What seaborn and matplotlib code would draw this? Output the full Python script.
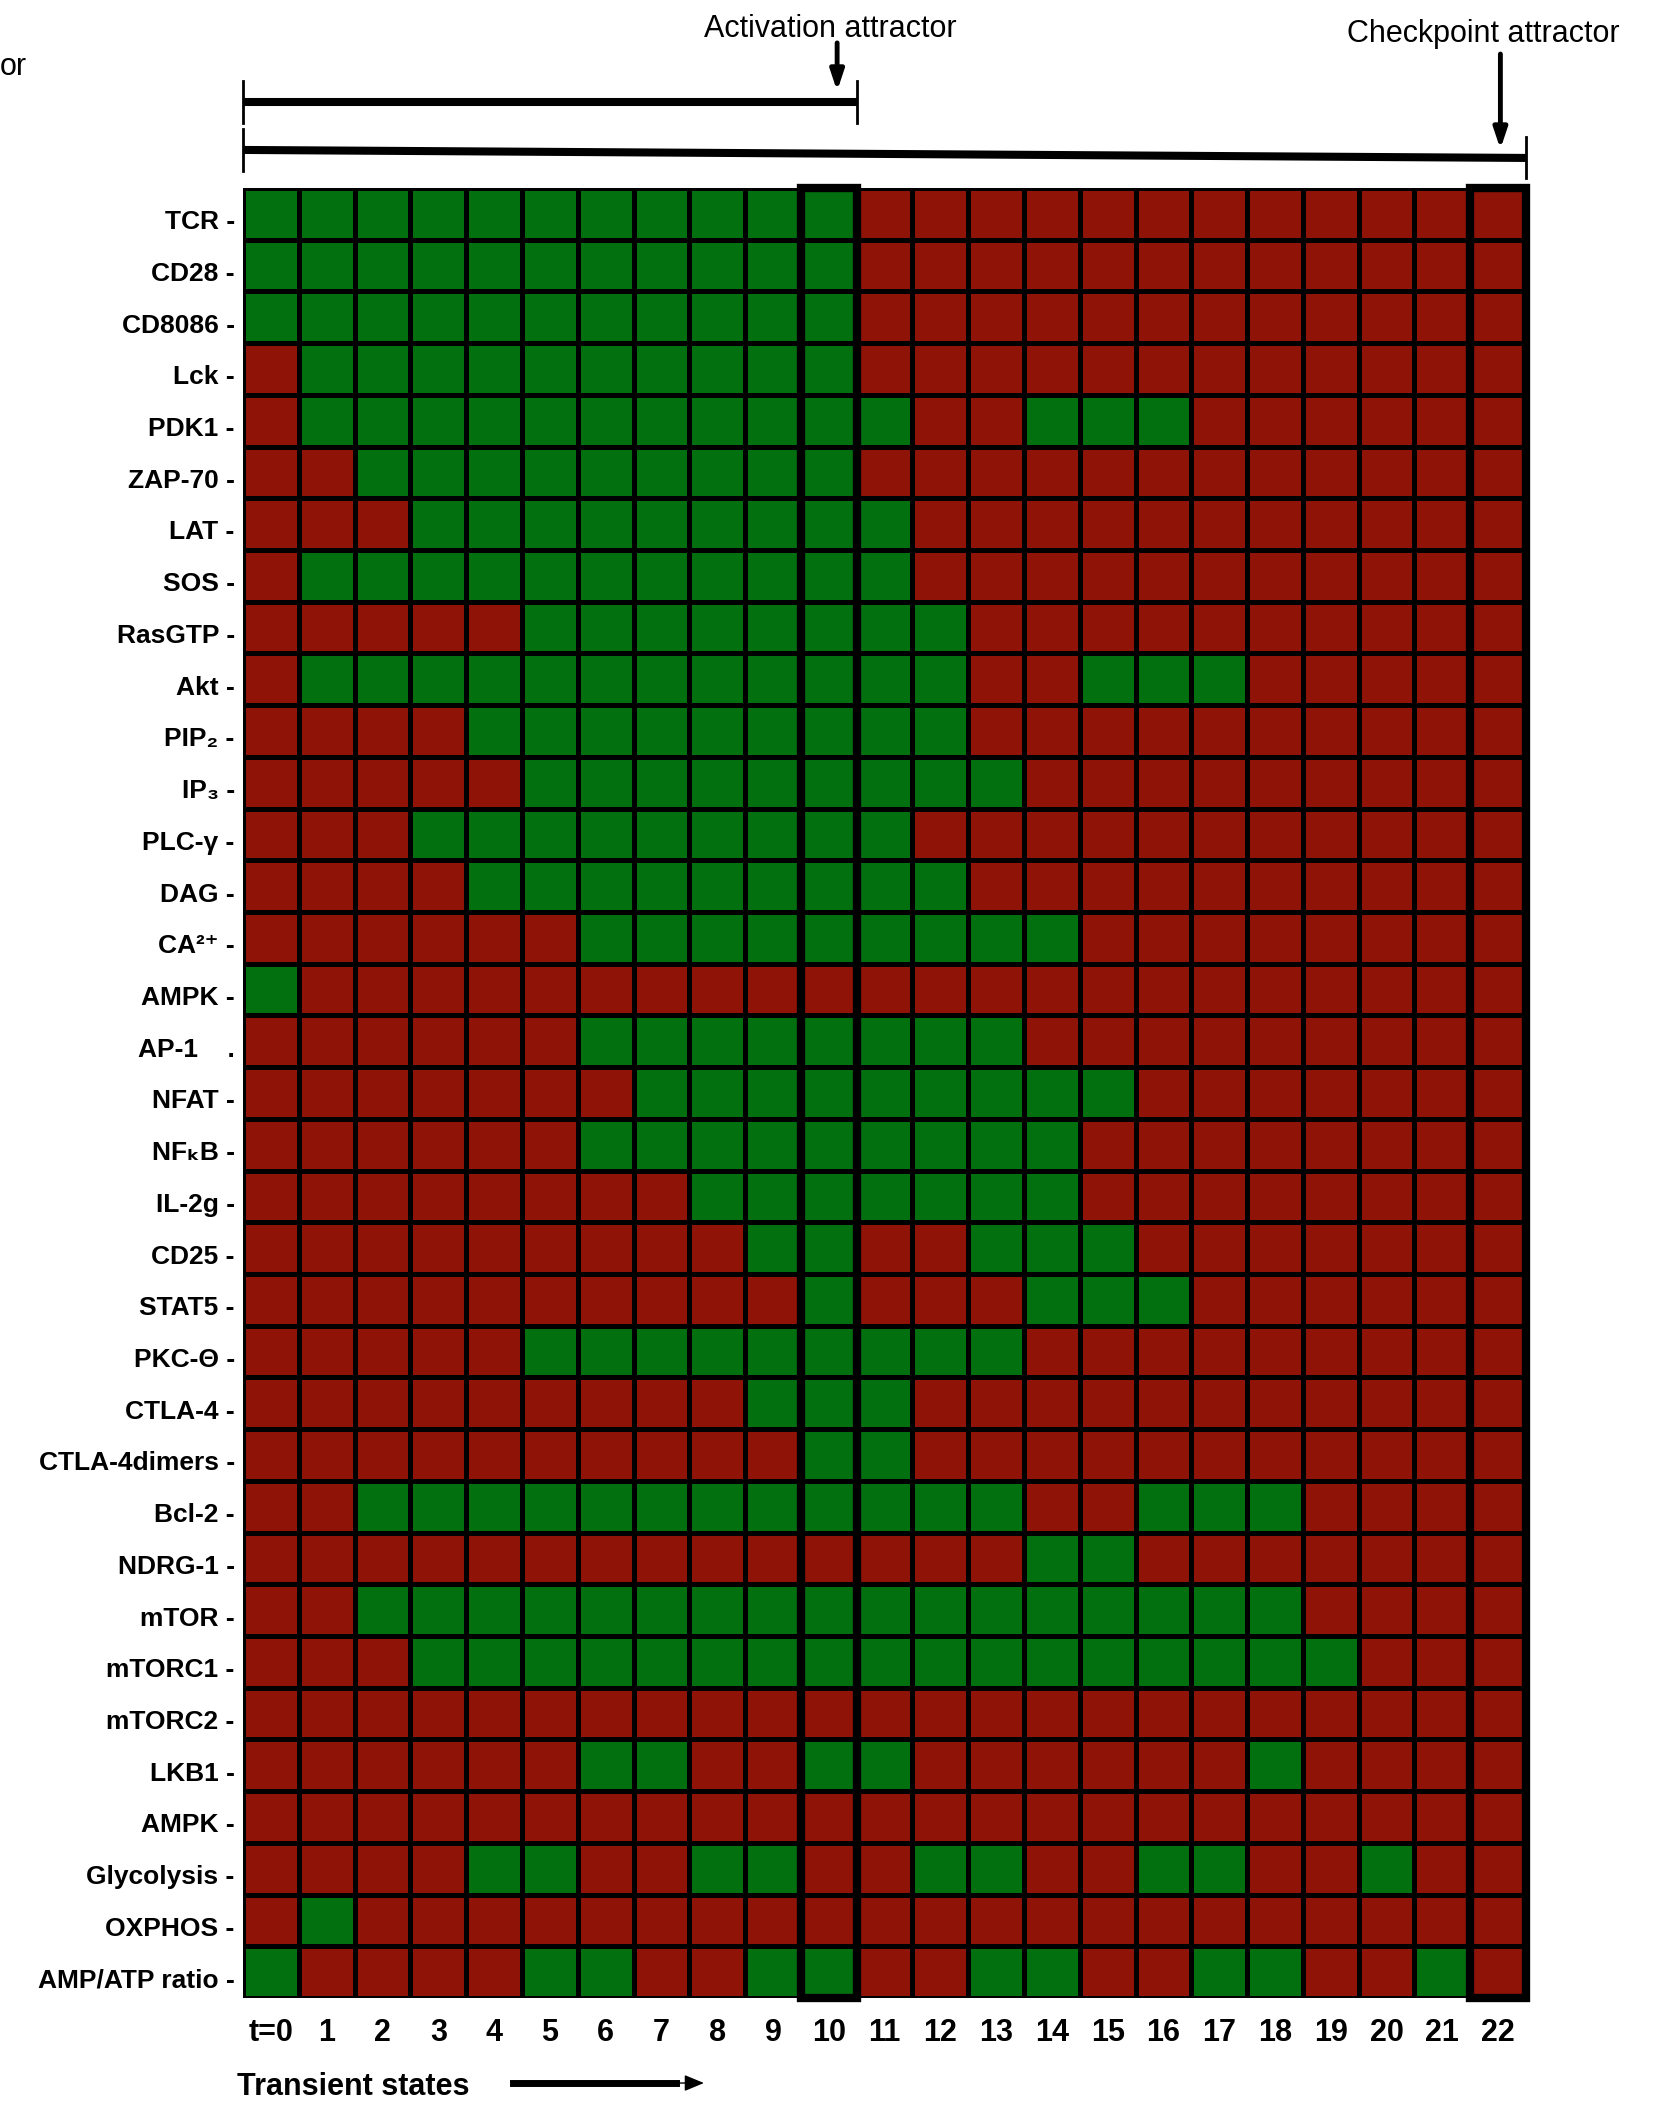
# Boolean network trajectory: node states over transient steps toward two attractors

import pandas as pd
import matplotlib.pyplot as plt
import matplotlib.transforms as mtransforms
from matplotlib.colors import ListedColormap
from matplotlib.patches import Rectangle
import seaborn as sns

nodes = ["TCR", "CD28", "CD8086", "Lck", "PDK1", "ZAP-70", "LAT", "SOS", "RasGTP", "Akt",
         "PIP₂", "IP₃", "PLC-γ", "DAG", "CA²⁺", "AMPK", "AP-1", "NFAT", "NFₖB", "IL-2g",
         "CD25", "STAT5", "PKC-Θ", "CTLA-4", "CTLA-4dimers", "Bcl-2", "NDRG-1", "mTOR",
         "mTORC1", "mTORC2", "LKB1", "AMPK", "Glycolysis", "OXPHOS", "AMP/ATP ratio"]

time_labels = ["t=0"] + [str(i) for i in range(1, 23)]

# 1 = active (green), 0 = inactive (red), one string per node, t=0..22
states = [
    "11111111111000000000000",  # TCR
    "11111111111000000000000",  # CD28
    "11111111111000000000000",  # CD8086
    "01111111111000000000000",  # Lck
    "01111111111100111000000",  # PDK1
    "00111111111000000000000",  # ZAP-70
    "00011111111100000000000",  # LAT
    "01111111111100000000000",  # SOS
    "00000111111110000000000",  # RasGTP
    "01111111111110011100000",  # Akt
    "00001111111110000000000",  # PIP2
    "00000111111111000000000",  # IP3
    "00011111111100000000000",  # PLC-g
    "00001111111110000000000",  # DAG
    "00000011111111100000000",  # CA2+
    "10000000000000000000000",  # AMPK
    "00000011111111000000000",  # AP-1
    "00000001111111110000000",  # NFAT
    "00000011111111100000000",  # NFkB
    "00000000111111100000000",  # IL-2g
    "00000000011001110000000",  # CD25
    "00000000001000111000000",  # STAT5
    "00000111111111000000000",  # PKC-theta
    "00000000011100000000000",  # CTLA-4
    "00000000001100000000000",  # CTLA-4dimers
    "00111111111111001110000",  # Bcl-2
    "00000000000000110000000",  # NDRG-1
    "00111111111111111110000",  # mTOR
    "00011111111111111111000",  # mTORC1
    "00000000000000000000000",  # mTORC2
    "00000011001100000010000",  # LKB1
    "00000000000000000000000",  # AMPK
    "00001100110011001100100",  # Glycolysis
    "01000000000000000000000",  # OXPHOS
    "10000110011001100110010",  # AMP/ATP ratio
]

attractor_cols = [10, 22]

red = "#8f1307"
green = "#037010"

matrix = pd.DataFrame([[int(c) for c in s] for s in states])

plt.rcParams["font.family"] = ["Liberation Sans", "DejaVu Sans"]

fig = plt.figure(figsize=(16.68, 21.03), dpi=100)
ax = fig.add_axes([0.1457, 0.0499, 0.7692, 0.8607])

sns.heatmap(matrix, ax=ax, cmap=ListedColormap([red, green]), vmin=0, vmax=1,
            cbar=False, linewidths=2.2, linecolor="black",
            xticklabels=time_labels,
            yticklabels=[n + ("    ." if n == "AP-1" else " -") for n in nodes])

ax.tick_params(axis="both", length=0)
ax.tick_params(axis="y", pad=6)
ax.tick_params(axis="x", pad=14)
# row labels sit a little below the row centres in the original
shift = mtransforms.ScaledTranslation(0, -6 / 72, fig.dpi_scale_trans)
for lab in ax.get_yticklabels():
    lab.set_rotation(0)
    lab.set_fontsize(19)
    lab.set_fontweight("bold")
    lab.set_transform(lab.get_transform() + shift)
for lab in ax.get_xticklabels():
    lab.set_rotation(0)
    lab.set_fontsize(22)
    lab.set_fontweight("bold")

# thick frames around the attractor states
for c in attractor_cols:
    ax.add_patch(Rectangle((c, 0), 1, len(nodes), fill=False, edgecolor="black",
                           lw=6, clip_on=False, zorder=5))

# brackets and arrows above the grid (x in data, y in figure fraction)
tr = mtransforms.blended_transform_factory(ax.transData, fig.transFigure)
ncol = len(time_labels)

ax.plot([0, 11], [0.9515, 0.9515], color="black", lw=5.8, transform=tr, clip_on=False,
        solid_capstyle="butt")
ax.plot([0, 0], [0.9615, 0.9415], color="black", lw=2, transform=tr, clip_on=False)
ax.plot([11, 11], [0.9615, 0.9415], color="black", lw=2, transform=tr, clip_on=False)

ax.plot([0, ncol], [0.9287, 0.9249], color="black", lw=5.8, transform=tr, clip_on=False,
        solid_capstyle="butt")
ax.plot([0, 0], [0.9387, 0.9187], color="black", lw=2, transform=tr, clip_on=False)
ax.plot([ncol, ncol], [0.9349, 0.9154], color="black", lw=2, transform=tr, clip_on=False)

ax.annotate("", xy=(10.65, 0.9567), xytext=(10.65, 0.9796), xycoords=tr, textcoords=tr,
            arrowprops=dict(arrowstyle="-|>,head_length=1.2,head_width=0.4",
                            color="black", lw=3.5, shrinkA=0, shrinkB=0))
ax.annotate("", xy=(22.54, 0.9291), xytext=(22.54, 0.9743), xycoords=tr, textcoords=tr,
            arrowprops=dict(arrowstyle="-|>,head_length=1.2,head_width=0.4",
                            color="black", lw=3.5, shrinkA=0, shrinkB=0))

ax.text(10.52, 0.9862, "Activation attractor", transform=tr, ha="center", va="center",
        fontsize=22)
ax.text(22.24, 0.9840, "Checkpoint attractor", transform=tr, ha="center", va="center",
        fontsize=22)
fig.text(0.0, 0.968, "or", ha="left", va="center", fontsize=22)

# bottom caption
fig.text(0.142, 0.0075, "Transient states", ha="left", va="center", fontsize=22,
         fontweight="bold")
fig.add_artist(plt.Line2D([0.3076, 0.405], [0.0095, 0.0095], color="black", lw=5,
                          transform=fig.transFigure))
ax.annotate("", xy=(0.422, 0.0095), xytext=(0.40, 0.0095), xycoords=fig.transFigure,
            textcoords=fig.transFigure,
            arrowprops=dict(arrowstyle="-|>,head_length=1.2,head_width=0.5",
                            color="black", lw=1, shrinkA=0, shrinkB=0))

fig.savefig("out.png", dpi=100)
